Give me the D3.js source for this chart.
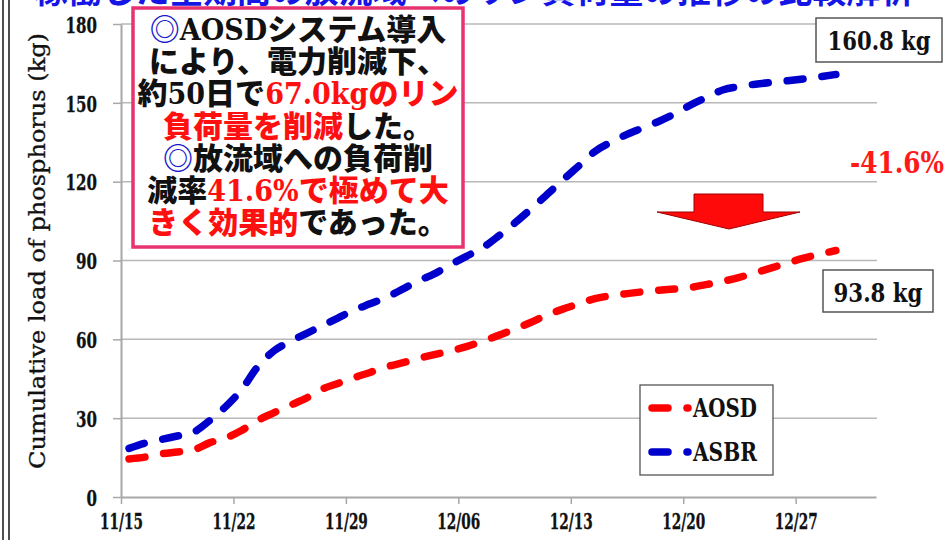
<!DOCTYPE html>
<html>
<head>
<meta charset="utf-8">
<script src="https://cdn.jsdelivr.net/npm/d3@7"></script>
<style>
  html, body { margin: 0; padding: 0; background: #fff; }
  svg { display: block; }
</style>
</head>
<body>
<svg id="chart" width="949" height="540"></svg>
<script>
// Daily cumulative phosphorus load (kg), 11/15 – 12/29
const firstDay = new Date(2012, 10, 15);
const lastDayExclusive = new Date(2012, 11, 30);
const axisEnd = new Date(2013, 0, 1);

const seriesNames = ["AOSD", "ASBR"];
const aosd = [14.5, 15.2, 16.4, 17.1, 17.9, 20.6, 22.4, 25.3, 29.1, 32.0, 34.8, 37.5, 41.0, 43.2, 45.4,
  47.4, 49.5, 51.0, 52.7, 54.2, 55.6, 57.2, 59.3, 61.5, 63.9, 66.4, 69.2, 71.5, 73.5, 75.5,
  76.6, 77.4, 78.1, 78.7, 79.2, 79.8, 80.9, 82.1, 83.6, 85.4, 87.2, 89.1, 90.9, 92.4, 93.8];
const asbr = [18.5, 20.5, 21.9, 23.2, 24.6, 29.0, 34.3, 40.8, 49.5, 55.5, 59.1, 62.1, 65.1, 68.1, 71.1,
  73.5, 75.9, 79.0, 82.2, 84.9, 88.4, 91.6, 94.8, 99.3, 104.2, 109.5, 115.0, 120.6, 126.0, 131.5,
  135.0, 138.0, 140.5, 143.0, 145.9, 149.3, 152.2, 155.0, 156.2, 157.1, 157.8, 158.4, 159.1, 159.9, 160.8];
const yTicks = [0, 30, 60, 90, 120, 150, 180];
const reductionLabel = "-41.6%";

const titleText = "稼働した全期間の放流域へのリン負荷量の推移の比較解析";
const noteLines = [
  [["◎", "mark"], ["AOSDシステム導入", "black"]],
  [["により、電力削減下、", "black"]],
  [["約50日で", "black"], ["67.0kgのリン", "red"]],
  [["負荷量を削減", "red"], ["した。", "black"]],
  [["◎", "mark"], ["放流域への負荷削", "black"]],
  [["減率", "black"], ["41.6%で極めて大", "red"]],
  [["きく効果的", "red"], ["であった。", "black"]]
];

const colors = { AOSD: "#ff0000", ASBR: "#0000cc" };
const textColors = { mark: "#1a1acc", black: "#111", red: "#ff1010" };
const serif = "'DejaVu Serif Condensed', 'DejaVu Serif', serif";
const jp = "'DejaVu Serif Condensed', 'Noto Sans CJK JP', sans-serif";
const cjk = "'Noto Sans CJK JP', sans-serif";

// Squeeze a text horizontally to a given width, keeping its anchor point in place
function fitWidth(sel, width) {
  sel.each(function (d, i) {
    const t = d3.select(this);
    const w = this.getComputedTextLength();
    const target = typeof width === "function" ? width(d, i) : width;
    if (!w) return;
    const s = target / w;
    const x0 = +t.attr("x") || 0;
    t.attr("x", x0 / s).attr("transform", `scale(${s},1)`);
  });
}

const svg = d3.select("#chart");
svg.append("rect").attr("width", 949).attr("height", 540).attr("fill", "#fff");

// Slide frame on the left edge
[3, 9].forEach(x => svg.append("line")
  .attr("x1", x).attr("x2", x).attr("y1", 0).attr("y2", 540)
  .attr("stroke", "#222").attr("stroke-width", 1.6));

// Slide title (runs off the top edge)
svg.append("text")
  .attr("x", 474).attr("y", 3)
  .attr("text-anchor", "middle")
  .attr("font-family", cjk)
  .attr("font-weight", 700)
  .attr("font-size", 34)
  .attr("fill", "#1515e6")
  .attr("textLength", 880).attr("lengthAdjust", "spacingAndGlyphs")
  .text(titleText);

const plot = { left: 121, right: 876, top: 24, bottom: 497 };

const x = d3.scaleTime().domain([firstDay, axisEnd]).range([plot.left, plot.right]);
const y = d3.scaleLinear().domain([0, 180]).range([plot.bottom, plot.top]);

const days = d3.timeDay.range(firstDay, lastDayExclusive);
// each day's value sits in the middle of its day slot
const mid = d => d3.timeHour.offset(d, 12);

// Horizontal gridlines
svg.append("g").selectAll("line").data(yTicks.filter(v => v > 0)).join("line")
  .attr("x1", plot.left).attr("x2", plot.right + 1)
  .attr("y1", d => y(d)).attr("y2", d => y(d))
  .attr("stroke", "#b8b8b8").attr("stroke-width", 1.5);

// Y axis
const yAxis = svg.append("g")
  .attr("transform", `translate(${plot.left},0)`)
  .call(d3.axisLeft(y).tickValues(yTicks).tickSize(8).tickSizeOuter(0).tickPadding(16));
yAxis.select(".domain").attr("stroke", "#a8a8a8").attr("stroke-width", 2);
yAxis.selectAll(".tick line").attr("stroke", "#a8a8a8").attr("stroke-width", 1.5);
yAxis.selectAll(".tick text")
  .attr("dy", "0.36em")
  .attr("font-family", serif).attr("font-weight", 700).attr("font-size", 23)
  .attr("fill", "#111").attr("stroke", "#111").attr("stroke-width", 0.3)
  .call(fitWidth, d => String(d).length * 10.5);

// X axis
const xTicks = d3.timeDay.range(firstDay, axisEnd, 7);
const xAxis = svg.append("g")
  .attr("transform", `translate(0,${plot.bottom})`)
  .call(d3.axisBottom(x).tickValues(xTicks).tickFormat(d3.timeFormat("%m/%d"))
    .tickSize(7).tickSizeOuter(0));
xAxis.select(".domain").attr("stroke", "#a8a8a8").attr("stroke-width", 2);
xAxis.selectAll(".tick line").attr("stroke", "#a8a8a8").attr("stroke-width", 1.5);
xAxis.selectAll(".tick text")
  .attr("y", 32).attr("dy", 0)
  .attr("font-family", serif).attr("font-weight", 700).attr("font-size", 22)
  .attr("fill", "#111").attr("stroke", "#111").attr("stroke-width", 0.3)
  .call(fitWidth, 43);

// Y axis title
svg.append("text")
  .attr("transform", "translate(45,251) rotate(-90)")
  .attr("text-anchor", "middle")
  .attr("font-family", serif).attr("font-size", 22)
  .attr("textLength", 436).attr("lengthAdjust", "spacingAndGlyphs")
  .attr("fill", "#111").attr("stroke", "#111").attr("stroke-width", 0.3)
  .text("Cumulative load of phosphorus (kg)");

// Series lines
const series = [
  { name: "ASBR", values: asbr },
  { name: "AOSD", values: aosd }
];
const line = d3.line()
  .x((v, i) => x(mid(days[i])))
  .y(v => y(v))
  .curve(d3.curveMonotoneX);

svg.append("g").selectAll("path").data(series).join("path")
  .attr("d", s => line(s.values))
  .attr("fill", "none")
  .attr("stroke", s => colors[s.name])
  .attr("stroke-width", 7.5)
  .attr("stroke-linecap", "round")
  .attr("stroke-linejoin", "round")
  .attr("stroke-dasharray", "16 19");

// Note box
svg.append("rect")
  .attr("x", 133).attr("y", 8).attr("width", 330).attr("height", 239)
  .attr("fill", "#fff").attr("stroke", "#e8336f").attr("stroke-width", 3.5);
const note = svg.append("g");
noteLines.forEach((segs, i) => {
  const t = note.append("text")
    .attr("x", 298).attr("y", 40 + i * 32.2)
    .attr("text-anchor", "middle")
    .attr("font-family", jp).attr("font-weight", 900).attr("font-size", 30);
  segs.forEach(([s, c]) => {
    const sp = t.append("tspan").attr("fill", textColors[c]).text(s);
    if (c === "mark") sp.attr("font-family", cjk).attr("font-weight", 700);
  });
});

// End-value callouts
const fmt = d3.format(".1f");
function callout(bx, by, bw, bh, baseline, textW, value) {
  svg.append("rect").attr("x", bx).attr("y", by).attr("width", bw).attr("height", bh)
    .attr("fill", "#fff").attr("stroke", "#555").attr("stroke-width", 1.5);
  svg.append("text")
    .attr("x", bx + bw / 2).attr("y", baseline)
    .attr("text-anchor", "middle")
    .attr("font-family", serif).attr("font-weight", 700).attr("font-size", 26)
    .attr("fill", "#111")
    .text(`${fmt(value)} kg`)
    .call(fitWidth, textW);
}
callout(816, 18, 126, 44, 50, 103, asbr[asbr.length - 1]);
callout(823, 270, 110, 42, 302, 89, aosd[aosd.length - 1]);

// Reduction rate
svg.append("text")
  .attr("x", 944).attr("y", 173)
  .attr("text-anchor", "end")
  .attr("font-family", serif).attr("font-weight", 700).attr("font-size", 30)
  .attr("fill", "#ff1a1a")
  .text(reductionLabel)
  .call(fitWidth, 94);

// Downward arrow
svg.append("path")
  .attr("d", "M694,194 L763,194 L763,212 L800,212 L729,229 L657,212 L694,212 Z")
  .attr("fill", "#ff0a0a").attr("stroke", "#a00000").attr("stroke-width", 1)
  .attr("stroke-linejoin", "miter");

// Legend
const legend = svg.append("g");
legend.append("rect").attr("x", 640).attr("y", 385).attr("width", 133).attr("height", 90)
  .attr("fill", "#fff").attr("stroke", "#555").attr("stroke-width", 1.3);
seriesNames.forEach((name, i) => {
  const cy = 408 + i * 44;
  legend.append("line")
    .attr("x1", 652).attr("x2", 688).attr("y1", cy).attr("y2", cy)
    .attr("stroke", colors[name]).attr("stroke-width", 7.5)
    .attr("stroke-linecap", "round").attr("stroke-dasharray", "16 19");
  legend.append("text")
    .attr("x", 693).attr("y", cy + 9)
    .attr("font-family", serif).attr("font-weight", 700).attr("font-size", 26)
    .attr("fill", "#111")
    .text(name)
    .call(fitWidth, 64);
});
</script>
</body>
</html>
